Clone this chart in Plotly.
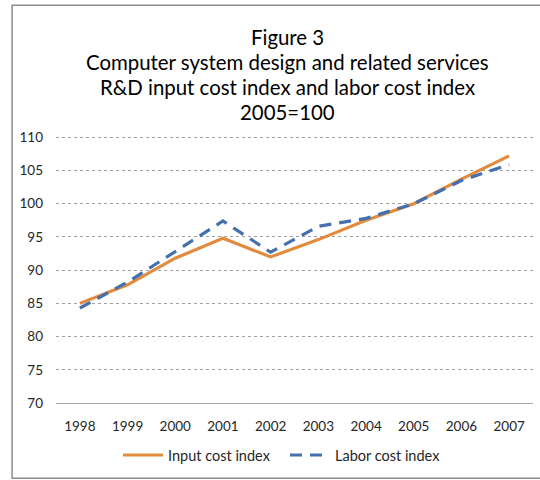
import plotly.graph_objects as go

years = ["1998", "1999", "2000", "2001", "2002", "2003", "2004", "2005", "2006", "2007"]
input_cost = [85.0, 87.8, 91.8, 94.8, 92.0, 94.6, 97.5, 100.0, 103.7, 107.2]
labor_cost = [84.3, 88.2, 92.8, 97.4, 92.7, 96.6, 97.8, 100.0, 103.5, 105.9]

title_lines = [
    "Figure 3",
    "Computer system design and related services",
    "R&D input cost index and labor cost index",
    "2005=100",
]

fig = go.Figure()

fig.add_trace(go.Scatter(
    x=years, y=input_cost, name="Input cost index", mode="lines",
    line=dict(color="#E38B3C", width=3.2)
))

fig.add_trace(go.Scatter(
    x=years, y=labor_cost, name="Labor cost index", mode="lines",
    line=dict(color="#4471AE", width=3.2, dash="12px,8px")
))

# title, one annotation per line so the spacing matches
title_notes = []
for i, line in enumerate(title_lines):
    title_notes.append(dict(
        text=line, xref="paper", yref="paper",
        x=0.486, y=1.0, yanchor="middle", yshift=99 - 25 * i,
        showarrow=False, font=dict(family="Lato", size=20.4, color="black")
    ))

fig.update_layout(
    width=540,
    height=480,
    paper_bgcolor="white",
    plot_bgcolor="white",
    font=dict(family="Lato", size=13.5, color="#262626"),
    margin=dict(l=56, r=7, t=136, b=77),
    showlegend=True,
    legend=dict(
        orientation="h", x=0.13, xanchor="left", y=-0.195, yanchor="middle",
        font=dict(size=14.5), itemwidth=40, entrywidth=112, tracegroupgap=0
    ),
    annotations=title_notes,
    shapes=[dict(
        type="rect", xref="paper", yref="paper",
        x0=-0.092, x1=1.03, y0=-0.282, y1=1.49,
        line=dict(color="#8C8C8C", width=1.5)
    )],
)

fig.update_xaxes(
    type="category", range=[-0.5, 9.5],
    showgrid=False, showline=True, linecolor="#A6A6A6", linewidth=1,
    ticks="", ticklabelstandoff=11
)

fig.update_yaxes(
    range=[70, 110.2], tickvals=[70, 75, 80, 85, 90, 95, 100, 105, 110],
    showgrid=True, gridcolor="#A0A0A0", griddash="dot", gridwidth=1,
    zeroline=False, showline=False, ticks="", ticklabelstandoff=12
)

# page body has a default 8px margin; drop it so the chart sits at 0,0
fig.write_html(
    "out.html",
    config={"displayModeBar": False},
    post_script="document.body.style.margin='0';"
)
